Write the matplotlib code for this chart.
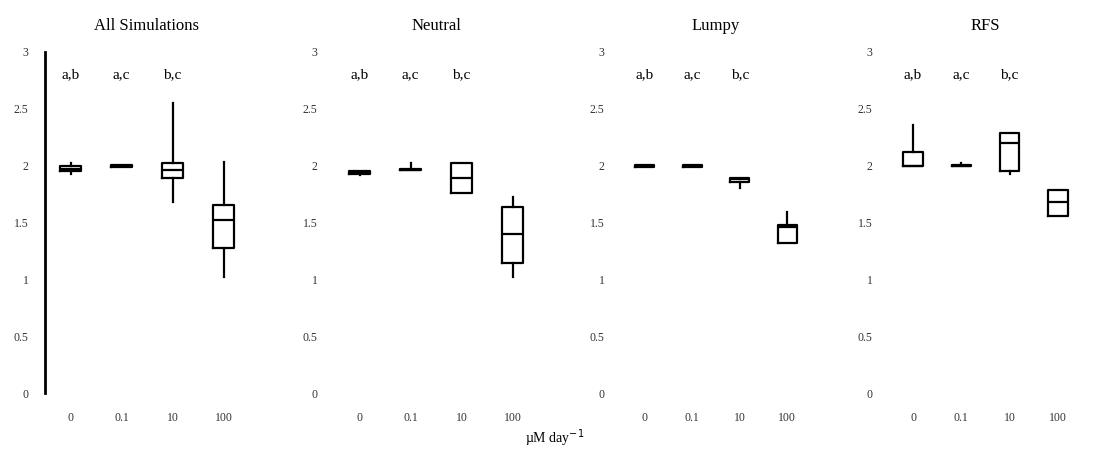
import matplotlib.pyplot as plt

plt.rcParams['font.family'] = ['Liberation Serif', 'DejaVu Serif']

# Panels, concentrations and summary statistics (whislo, q1, med, q3, whishi)
paneles = ['All Simulations', 'Neutral', 'Lumpy', 'RFS']
dosis = ['0', '0.1', '10', '100']
letras = ['a,b', 'a,c', 'b,c']

bigote_inf = [
    [1.93, 1.99, 1.68, 1.02],
    [1.92, 1.96, 1.76, 1.02],
    [1.99, 1.99, 1.80, 1.32],
    [2.00, 2.00, 1.93, 1.56],
]
cuartil_1 = [
    [1.95, 1.99, 1.89, 1.28],
    [1.93, 1.96, 1.76, 1.14],
    [1.99, 1.99, 1.86, 1.32],
    [2.00, 2.00, 1.95, 1.56],
]
mediana = [
    [1.97, 2.00, 1.96, 1.52],
    [1.94, 1.96, 1.89, 1.40],
    [2.00, 2.00, 1.88, 1.46],
    [2.00, 2.00, 2.20, 1.68],
]
cuartil_3 = [
    [2.00, 2.01, 2.02, 1.65],
    [1.95, 1.97, 2.02, 1.64],
    [2.01, 2.01, 1.89, 1.48],
    [2.12, 2.01, 2.29, 1.79],
]
bigote_sup = [
    [2.02, 2.01, 2.55, 2.03],
    [1.95, 2.02, 2.02, 1.72],
    [2.01, 2.01, 1.89, 1.59],
    [2.36, 2.02, 2.29, 1.79],
]

fig = plt.figure(figsize=(11.2, 4.59), dpi=100)

# Axes placement in pixels: left, width
posiciones = [(45, 204), (334, 204), (621, 190), (889, 193)]
W, H = 1120, 459
fondo, alto = 393, 341

for i, nombre in enumerate(paneles):
    izq, ancho = posiciones[i]
    ax = fig.add_axes([izq / W, 1 - fondo / H, ancho / W, alto / H])

    stats = []
    for j, d in enumerate(dosis):
        stats.append(dict(whislo=bigote_inf[i][j], q1=cuartil_1[i][j],
                          med=mediana[i][j], q3=cuartil_3[i][j],
                          whishi=bigote_sup[i][j], label=d))
    ax.bxp(stats, positions=range(1, 5), widths=0.4, showcaps=False,
           showfliers=False,
           boxprops=dict(color='black', linewidth=1.6),
           whiskerprops=dict(color='black', linewidth=1.6),
           medianprops=dict(color='black', linewidth=1.6))

    for j, t in enumerate(letras):
        ax.text(j + 1, 2.8, t, ha='center', va='center', fontsize=11)

    ax.set_xlim(0.5, 4.5)
    ax.set_ylim(0, 3)
    ax.set_yticks([0, 0.5, 1, 1.5, 2, 2.5, 3])
    ax.set_yticklabels(['0', '0.5', '1', '1.5', '2', '2.5', '3'])
    ax.tick_params(axis='both', length=0, labelsize=8.5, colors='#333333')
    ax.tick_params(axis='x', pad=14)
    ax.tick_params(axis='y', pad=12)
    ax.set_title(nombre, fontsize=12, pad=16)

    for lado in ['top', 'right', 'bottom', 'left']:
        ax.spines[lado].set_visible(False)
    if i == 0:
        ax.spines['left'].set_visible(True)
        ax.spines['left'].set_linewidth(2)

fig.text(555 / W, 1 - 438 / H, 'µM day$^{-1}$', ha='center', va='center',
         fontsize=10)

plt.savefig('out.png', dpi=100)
